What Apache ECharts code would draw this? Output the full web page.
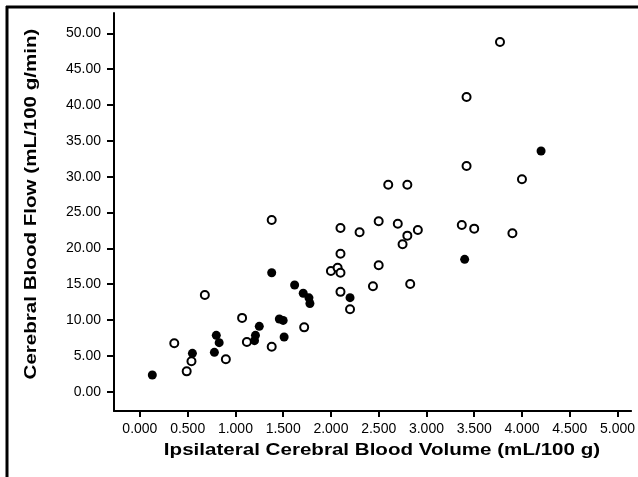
<!DOCTYPE html>
<html>
<head>
<meta charset="utf-8">
<script src="https://cdn.jsdelivr.net/npm/echarts@6/dist/echarts.min.js"></script>
<style>
  html, body { margin: 0; padding: 0; background: #fff; }
  #chart { width: 638px; height: 477px; }
</style>
</head>
<body>
<div id="chart"></div>
<script>
// Ipsilateral CBV (mL/100 g) vs CBF (mL/100 g/min), two groups of cases
const openVolume = [1.38, 2.10, 2.30, 2.10, 2.00, 2.07, 2.10, 2.10, 2.20, 0.68,
                    1.07, 1.72, 1.12, 1.38, 0.90, 0.36, 0.54, 0.49, 2.50, 2.70,
                    2.91, 2.80, 2.75, 2.50, 2.44, 2.83, 3.37, 3.50, 3.90, 3.77,
                    3.42, 3.42, 4.00, 2.60, 2.80];
const openFlow   = [23.95, 22.84, 22.24, 19.25, 16.84, 17.30, 16.60, 13.93, 11.50, 13.49,
                    10.30, 8.98, 6.93, 6.28, 4.52, 6.75, 4.24, 2.84, 23.77, 23.44,
                    22.56, 21.77, 20.56, 17.63, 14.70, 15.02, 23.26, 22.75, 22.10, 48.79,
                    41.11, 31.49, 29.63, 28.88, 28.88];

const filledVolume = [1.38, 1.62, 1.71, 1.77, 1.78, 2.20, 1.46, 1.50, 1.25, 1.21,
                      1.20, 1.51, 0.80, 0.83, 0.78, 0.55, 0.13, 3.40, 4.20];
const filledFlow   = [16.60, 14.88, 13.73, 13.10, 12.30, 13.12, 10.14, 9.95, 9.12, 7.86,
                      7.12, 7.63, 7.86, 6.84, 5.49, 5.35, 2.33, 18.47, 33.58];

const xTicks = [0, 0.5, 1, 1.5, 2, 2.5, 3, 3.5, 4, 4.5, 5];
const yTicks = [0, 5, 10, 15, 20, 25, 30, 35, 40, 45, 50];

const xTitle = 'Ipsilateral Cerebral Blood Volume (mL/100 g)';
const yTitle = 'Cerebral Blood Flow (mL/100 g/min)';

const pairs = (xs, ys) => xs.map((x, i) => [x, ys[i]]);

const chart = echarts.init(document.getElementById('chart'), null, { renderer: 'canvas' });

const fontFamily = 'Liberation Sans, Arial, sans-serif';
const labelFont = { color: '#000', fontFamily: fontFamily, fontSize: 14 };
const titleStyle = { fill: '#000', fontFamily: fontFamily, fontWeight: 'bold', fontSize: 17,
                     align: 'center', verticalAlign: 'middle' };

chart.setOption({
  animation: false,
  backgroundColor: '#fff',
  grid: { left: 114, right: 5, top: 13, bottom: 66, containLabel: false },
  xAxis: {
    type: 'value',
    min: -0.271,
    max: 5.143,
    splitLine: { show: false },
    axisLine: { onZero: false, lineStyle: { color: '#000', width: 2 } },
    axisTick: { show: true, customValues: xTicks, length: 6, inside: false,
                lineStyle: { color: '#000', width: 2 } },
    axisLabel: Object.assign({ customValues: xTicks, margin: 11,
                formatter: v => v.toFixed(3) }, labelFont)
  },
  yAxis: {
    type: 'value',
    min: -2.69,
    max: 52.83,
    splitLine: { show: false },
    axisLine: { onZero: false, lineStyle: { color: '#000', width: 2 } },
    axisTick: { show: true, customValues: yTicks, length: 7, inside: false,
                lineStyle: { color: '#000', width: 2 } },
    axisLabel: Object.assign({ customValues: yTicks, margin: 13,
                formatter: v => v.toFixed(2) }, labelFont)
  },
  series: [
    {
      type: 'scatter',
      data: pairs(openVolume, openFlow),
      symbol: 'circle',
      symbolSize: 8,
      itemStyle: { color: '#fff', borderColor: '#000', borderWidth: 2, opacity: 1 }
    },
    {
      type: 'scatter',
      data: pairs(filledVolume, filledFlow),
      symbol: 'circle',
      symbolSize: 9,
      itemStyle: { color: '#000', borderColor: '#000', borderWidth: 0, opacity: 1 }
    }
  ],
  graphic: [
    // outer frame: top and left rules
    { type: 'line', shape: { x1: 6, y1: 7, x2: 638, y2: 7 },
      style: { stroke: '#000', lineWidth: 3 } },
    { type: 'line', shape: { x1: 7, y1: 6, x2: 7, y2: 477 },
      style: { stroke: '#000', lineWidth: 3 } },
    // axis titles, set in a slightly extended bold face
    { type: 'text', x: 382, y: 450, scaleX: 1.21,
      style: Object.assign({ text: xTitle }, titleStyle) },
    { type: 'text', x: 31, y: 204, rotation: Math.PI / 2, scaleX: 1.21,
      style: Object.assign({ text: yTitle }, titleStyle) }
  ]
});
</script>
</body>
</html>
